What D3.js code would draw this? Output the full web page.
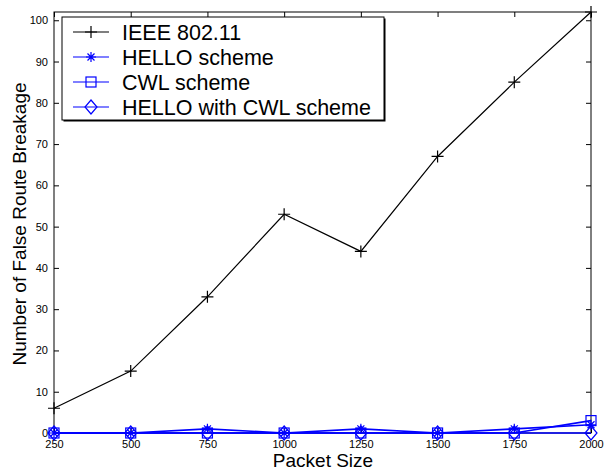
<!DOCTYPE html>
<html>
<head>
<meta charset="utf-8">
<script src="https://cdn.jsdelivr.net/npm/d3@7/dist/d3.min.js"></script>
<style>
  body { margin: 0; background: #fff; }
  svg { font-family: "Liberation Sans", Arial, sans-serif; }
</style>
</head>
<body>
<script>
var packetSizes = [250, 500, 750, 1000, 1250, 1500, 1750, 2000];
var ieee = [6, 15, 33, 53, 44, 67, 85, 102];
var hello = [0, 0, 1, 0, 1, 0, 1, 2];
var cwl = [0, 0, 0, 0, 0, 0, 0, 3];
var helloCwl = [0, 0, 0, 0, 0, 0, 0, 0];
var yTicks = [0, 10, 20, 30, 40, 50, 60, 70, 80, 90, 100];
var seriesNames = ["IEEE 802.11", "HELLO scheme", "CWL scheme", "HELLO with CWL scheme"];

var margin = { top: 12, right: 14, bottom: 42, left: 54 },
  width = 605 - margin.left - margin.right,
  height = 475 - margin.top - margin.bottom;

var svg = d3.select("body").append("svg")
  .attr("width", 605)
  .attr("height", 475);

var g = svg.append("g")
  .attr("transform", "translate(" + margin.left + "," + margin.top + ")");

var x = d3.scaleLinear().domain([250, 2000]).range([0, width]);
var y = d3.scaleLinear().domain([0, 102]).range([height, 0]);

// box
g.append("rect").attr("width", width).attr("height", height)
  .attr("fill", "none").attr("stroke", "#000").attr("stroke-width", 1);

// axes, ticks pointing in
var xAxis = d3.axisBottom(x).tickValues(packetSizes).tickSize(-5).tickPadding(9).tickFormat(d3.format("d"));
var yAxis = d3.axisLeft(y).tickValues(yTicks).tickSize(-5).tickPadding(6);
var ax = g.append("g").attr("transform", "translate(0," + height + ")").call(xAxis);
var ay = g.append("g").call(yAxis);
g.append("g").call(d3.axisTop(x).tickValues(packetSizes).tickSize(-5).tickFormat(""));
g.append("g").attr("transform", "translate(" + width + ",0)")
  .call(d3.axisRight(y).tickValues(yTicks).tickSize(-5).tickFormat(""));
g.selectAll(".domain").remove();
g.selectAll(".tick line").attr("stroke", "#000");
g.selectAll(".tick text").attr("font-size", 11).attr("font-family", "Liberation Sans, Arial, sans-serif").attr("fill", "#000");
ax.selectAll(".tick text").attr("dy", "0.5em");

// axis labels
svg.append("text").attr("x", 323).attr("y", 467).attr("text-anchor", "middle")
  .attr("font-size", 19).text("Packet Size");
svg.append("text").attr("transform", "translate(26,224) rotate(-90)")
  .attr("text-anchor", "middle").attr("font-size", 19).text("Number of False Route Breakage");

var line = d3.line().x(function(d, i) { return x(packetSizes[i]); }).y(function(d) { return y(d); });

function marker(sel, type, color) {
  if (type === "plus") {
    sel.append("path").attr("d", "M-6,0H6M0,-6V6");
  } else if (type === "star") {
    sel.append("path").attr("d", "M-5,0H5M0,-5V5M-3.5,-3.5L3.5,3.5M-3.5,3.5L3.5,-3.5");
  } else if (type === "square") {
    sel.append("rect").attr("x", -5).attr("y", -5).attr("width", 10).attr("height", 10);
  } else if (type === "diamond") {
    sel.append("path").attr("d", "M0,-7L6,0L0,7L-6,0Z");
  }
  sel.selectAll("path,rect").attr("fill", "none").attr("stroke", color).attr("stroke-width", 1.2);
}

var series = [
  { name: seriesNames[0], values: ieee, color: "#000", m: "plus" },
  { name: seriesNames[1], values: hello, color: "#0000ff", m: "star" },
  { name: seriesNames[2], values: cwl, color: "#0000ff", m: "square" },
  { name: seriesNames[3], values: helloCwl, color: "#0000ff", m: "diamond" }
];

series.slice().reverse().forEach(function(s) {
  g.append("path").datum(s.values).attr("d", line)
    .attr("fill", "none").attr("stroke", s.color).attr("stroke-width", s.color === "#000" ? 1.2 : 1.6);
  s.values.forEach(function(v, i) {
    var mg = g.append("g").attr("transform", "translate(" + x(packetSizes[i]) + "," + y(v) + ")");
    marker(mg, s.m, s.color);
  });
});

// legend
var lg = svg.append("g").attr("transform", "translate(62,17)");
lg.append("rect").attr("x", 1.5).attr("y", 1.5).attr("width", 322).attr("height", 103).attr("fill", "#000");
lg.append("rect").attr("width", 322).attr("height", 103).attr("fill", "#fff").attr("stroke", "#000").attr("stroke-width", 1);
series.forEach(function(s, i) {
  var yy = 15 + i * 25;
  lg.append("line").attr("x1", 11).attr("x2", 47).attr("y1", yy).attr("y2", yy)
    .attr("stroke", s.color).attr("stroke-width", 1.2);
  var mg = lg.append("g").attr("transform", "translate(29," + yy + ")");
  marker(mg, s.m, s.color);
  lg.append("text").attr("x", 60).attr("y", yy + 7.5).attr("font-size", 21.5).text(s.name);
});
</script>
</body>
</html>
